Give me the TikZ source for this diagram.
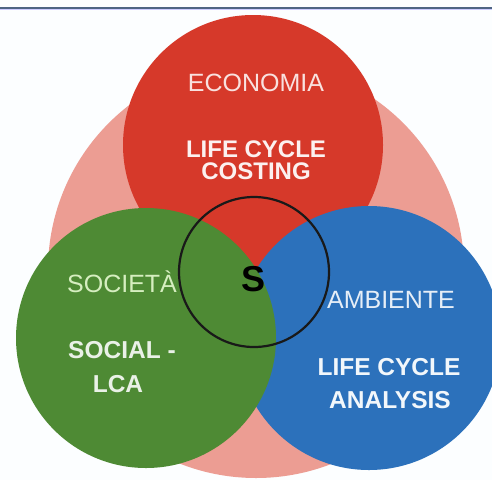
\documentclass[tikz,border=0pt]{standalone}
\usepackage{fontspec}
\setmainfont{Liberation Sans}

\definecolor{rosa}{HTML}{EC9D93}
\definecolor{rosso}{HTML}{D6392A}
\definecolor{verde}{HTML}{4E8A34}
\definecolor{blu}{HTML}{2C71BB}
\definecolor{barra}{HTML}{4F6584}
\definecolor{verdino}{HTML}{D6EEC0}

\tikzset{
	titolo/.style={anchor=base, font=\fontsize{25}{30}\selectfont},
	metodo/.style={anchor=base, font=\fontsize{24.5}{30}\selectfont\bfseries}
}

\begin{document}
\begin{tikzpicture}[x=1pt,y=-1pt]
			\useasboundingbox (0,0) rectangle (492,480);
			\fill [white!99!cyan] (0,0) rectangle (492,480);
			\draw [barra, line width=2pt] (0,7.5) -- (492,7.5); \draw [blue!20, line width=1pt] (0,9.5) -- (492,9.5);
			
			% cerchi
			\fill [rosa] (256,270) circle (208);
			\fill [rosso] (253,145) circle (130);
			\fill [blu] (369,338) circle (132);
			\fill [verde] (146,338) circle (130);
			\draw [black!90, line width=2.2pt] (254,272) circle (75);
			
			\node [titolo, text=white!85!rosso] (eco) at (256,91) {ECONOMIA};
			\node [metodo, text=white!93!rosso, font=\fontsize{24}{30}\selectfont\bfseries] (lcc1) at (256,157) {LIFE CYCLE};
			\node [metodo, text=white!93!rosso, font=\fontsize{24}{30}\selectfont\bfseries] (lcc2) at (256,179) {COSTING};
			
			\node [titolo, text=verdino] (soc) at (122,292) {SOCIETÀ};
			\node [metodo, text=white!88!verde] (slca1) at (122,358) {SOCIAL -};
			\node [metodo, text=white!88!verde] (slca2) at (118,392) {LCA};
			
			\node [titolo, text=white!88!blu] (amb) at (391,308) {AMBIENTE};
			\node [metodo, text=white!94!blu] (lca1) at (389,375) {LIFE CYCLE};
			\node [metodo, text=white!94!blu] (lca2) at (390,408) {ANALYSIS};
			
			\node [anchor=base, font=\fontsize{36}{40}\selectfont\bfseries] (s) at (253.5,291) {S};
			\end{tikzpicture}
\end{document}
